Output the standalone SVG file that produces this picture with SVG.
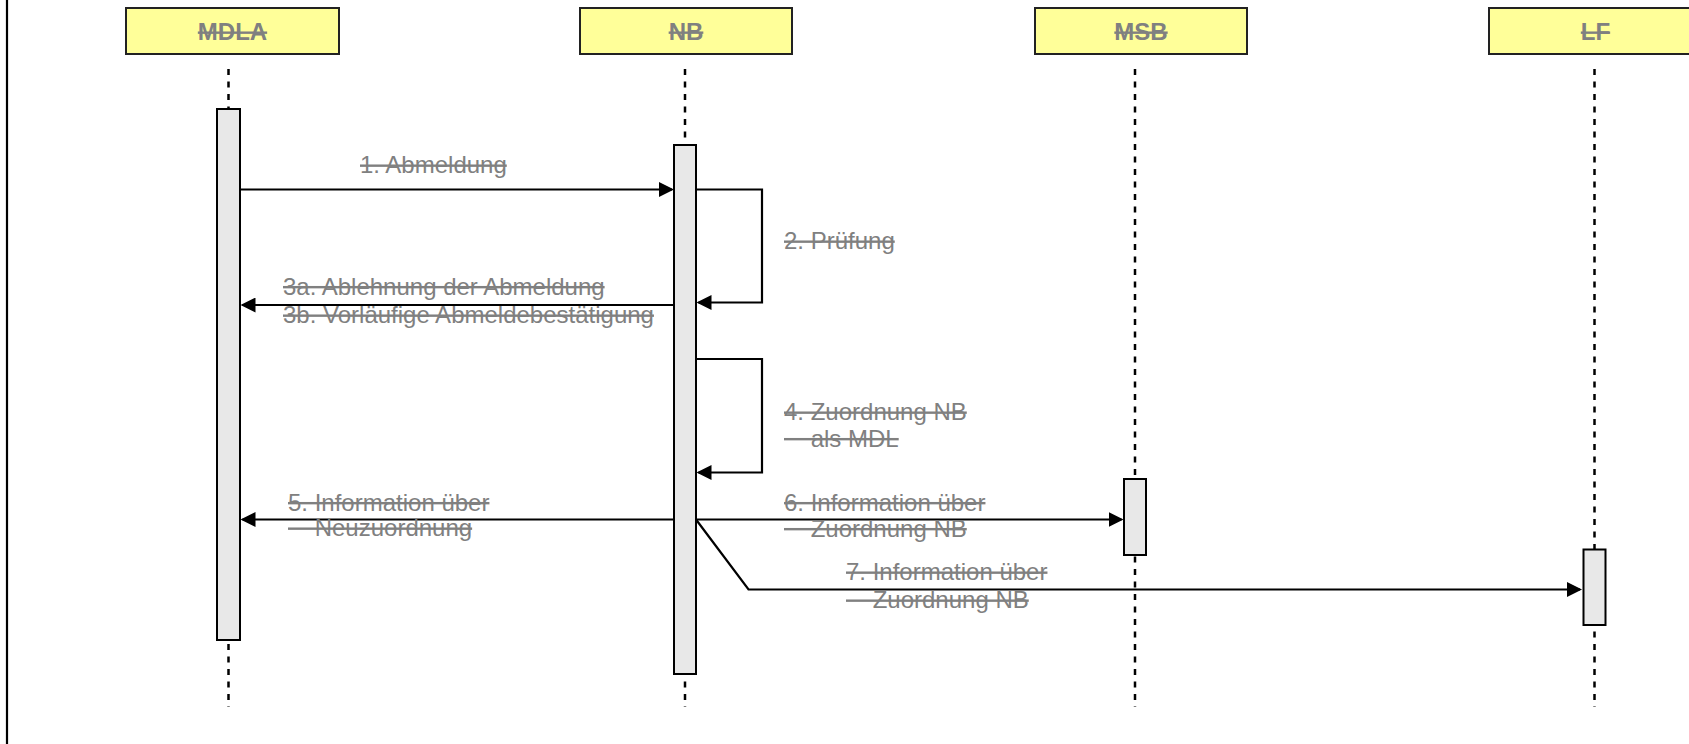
<svg xmlns="http://www.w3.org/2000/svg" width="1689" height="744" viewBox="0 0 1689 744">
  <style>
    .box { fill: #FFFF99; stroke: #222; stroke-width: 2; }
    .name { font-family: "Liberation Sans", Arial, sans-serif; font-size: 24px; font-weight: bold; fill: #808080; text-anchor: middle; text-decoration: line-through; text-decoration-thickness: 2px; }
    .life { stroke: #000; stroke-width: 2.5; stroke-dasharray: 6 6.5; fill: none; }
    .act { fill: #E8E8E8; stroke: #000; stroke-width: 2; }
    .msg { stroke: #000; stroke-width: 2.2; fill: none; }
    .lbl { font-family: "Liberation Sans", Arial, sans-serif; font-size: 24px; fill: #808080; text-decoration: line-through; text-decoration-thickness: 2px; white-space: pre; }
  </style>
  <defs>
    <marker id="arrow" markerUnits="userSpaceOnUse" markerWidth="15" markerHeight="15" refX="13" refY="7.5" orient="auto">
      <path d="M0,0 L15,7.5 L0,15 Z" fill="#000"/>
    </marker>
  </defs>

  <rect width="1689" height="744" fill="#fff"/>
  <!-- frame edge -->
  <line x1="7" y1="0" x2="7" y2="744" stroke="#000" stroke-width="2.2"/>

  <!-- lifelines -->
  <g id="lifelines">
    <line class="life" x1="228.5" y1="69" x2="228.5" y2="707"/>
    <line class="life" x1="685" y1="69" x2="685" y2="707"/>
    <line class="life" x1="1135" y1="69" x2="1135" y2="707"/>
    <line class="life" x1="1594.5" y1="69" x2="1594.5" y2="707"/>
  </g>

  <!-- participants -->
  <g id="mdla">
    <rect class="box" x="126" y="8" width="213" height="46"/>
    <text class="name" x="232.5" y="40">MDLA</text>
    <rect class="act" x="217" y="109" width="23" height="531"/>
  </g>
  <g id="nb">
    <rect class="box" x="580" y="8" width="212" height="46"/>
    <text class="name" x="686" y="40">NB</text>
    <rect class="act" x="674" y="145" width="22" height="529"/>
  </g>
  <g id="msb">
    <rect class="box" x="1035" y="8" width="212" height="46"/>
    <text class="name" x="1141" y="40">MSB</text>
    <rect class="act" x="1124" y="479" width="22" height="76"/>
  </g>
  <g id="lf">
    <rect class="box" x="1489" y="8" width="213" height="46"/>
    <text class="name" x="1595.5" y="40">LF</text>
    <rect class="act" x="1583.5" y="549.5" width="22" height="75.5"/>
  </g>

  <!-- messages -->
  <g id="connectors">
    <line class="msg" x1="240" y1="189.5" x2="672" y2="189.5" marker-end="url(#arrow)"/>
    <polyline class="msg" points="696,189.5 762,189.5 762,302.5 698.5,302.5" marker-end="url(#arrow)"/>
    <line class="msg" x1="674" y1="305" x2="242.5" y2="305" marker-end="url(#arrow)"/>
    <polyline class="msg" points="696,359 762,359 762,472.5 698.5,472.5" marker-end="url(#arrow)"/>
    <line class="msg" x1="674" y1="519.5" x2="242.5" y2="519.5" marker-end="url(#arrow)"/>
    <line class="msg" x1="696" y1="519.5" x2="1121.5" y2="519.5" marker-end="url(#arrow)"/>
    <polyline class="msg" points="696,519.5 748.5,589.5 1580,589.5" marker-end="url(#arrow)"/>
  </g>

  <!-- message labels -->
  <g id="labels">
    <text class="lbl" x="360" y="173">1. Abmeldung</text>
    <text class="lbl" x="784" y="249">2. Prüfung</text>
    <text class="lbl" x="283" y="294.5">3a. Ablehnung der Abmeldung</text>
    <text class="lbl" x="283" y="323">3b. Vorläufige Abmeldebestätigung</text>
    <text class="lbl" x="784" y="420">4. Zuordnung NB</text>
    <text class="lbl" x="784" y="446.5" xml:space="preserve">    als MDL</text>
    <text class="lbl" x="288" y="510.5">5. Information über</text>
    <text class="lbl" x="288" y="536" xml:space="preserve">    Neuzuordnung</text>
    <text class="lbl" x="784" y="510.5">6. Information über</text>
    <text class="lbl" x="784" y="536.5" xml:space="preserve">    Zuordnung NB</text>
    <text class="lbl" x="846" y="580">7. Information über</text>
    <text class="lbl" x="846" y="608" xml:space="preserve">    Zuordnung NB</text>
  </g>
</svg>
